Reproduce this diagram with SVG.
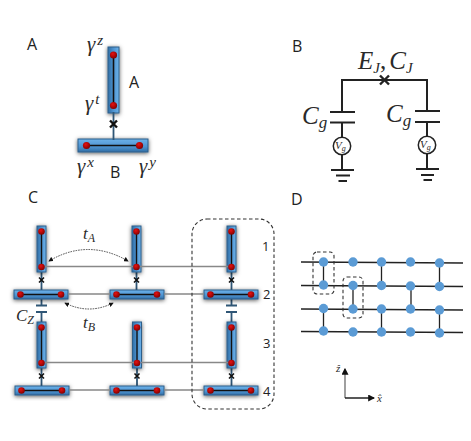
<svg xmlns="http://www.w3.org/2000/svg" width="471" height="441" viewBox="0 0 471 441">
<style>
.lab{font-family:"Open Sans","Lato",sans-serif;fill:#222}
.m{font-family:"Liberation Serif",serif;font-style:italic;fill:#2a2a2a}
.w{stroke:#222;fill:none;stroke-width:2}
.g{stroke:#888;stroke-width:1.3;fill:none}
.j{stroke:#2f5676;stroke-width:1.8;fill:none}
.x{stroke:#111;stroke-width:1.6;fill:none}
.blk{stroke:#111;stroke-width:1.4;fill:none}
.bar{fill:url(#bl);stroke:#2f5f8a;stroke-width:1;filter:url(#sh)}
.barh{fill:url(#bh);stroke:#2f5f8a;stroke-width:1;filter:url(#sh)}
.dot{fill:url(#rd)}
.dash{fill:none;stroke:#333;stroke-width:1.1;stroke-dasharray:3.5 2.5}
.d{fill:#5b9bd5}
.l{stroke:#222;stroke-width:1.3;fill:none}
.c{stroke:#222;stroke-width:.8;fill:none;stroke-dasharray:1.6 1}
</style>
<defs>
<linearGradient id="bl" x1="0" x2="1" y1="0" y2="0"><stop offset="0" stop-color="#2f6ea5"/><stop offset=".5" stop-color="#4e93d0"/><stop offset="1" stop-color="#6cb2ea"/></linearGradient>
<linearGradient id="bh" x1="0" x2="0" y1="0" y2="1"><stop offset="0" stop-color="#6cb2ea"/><stop offset=".6" stop-color="#4e93d0"/><stop offset="1" stop-color="#2f6ea5"/></linearGradient>
<radialGradient id="rd" cx=".4" cy=".35" r=".7"><stop offset="0" stop-color="#e81010"/><stop offset="1" stop-color="#7a0000"/></radialGradient>
<filter id="sh" x="-60%" y="-60%" width="220%" height="220%"><feDropShadow dx="0" dy="1" stdDeviation="2" flood-color="#000" flood-opacity=".65"/></filter>
<marker id="ah" viewBox="0 0 6 6" refX="5" refY="3" markerWidth="6" markerHeight="6" orient="auto-start-reverse"><path d="M0 0L6 3L0 6z" fill="#111"/></marker>
<marker id="ax" viewBox="0 0 6 6" refX="5" refY="3" markerWidth="5" markerHeight="5" orient="auto"><path d="M0 0L6 3L0 6z" fill="#111"/></marker>
<g id="vq">
<rect class="bar" x="-4.500" y="0" width="9" height="46"/>
<path class="blk" d="M0 5V41"/>
<circle class="dot" cy="5.500" r="3.300"/><circle class="dot" cy="41" r="3.300"/>
</g>
<g id="hq">
<rect class="barh" x="0" y="0" width="54" height="9"/>
<path class="blk" d="M6 4.500H47"/>
<circle class="dot" cx="6.500" cy="4.500" r="3.300"/><circle class="dot" cx="47" cy="4.500" r="3.300"/>
</g>
</defs>

<g id="panel-labels">
<text class="lab" x="27" y="50" font-size="16">A</text>
<text class="lab" x="292" y="52" font-size="16">B</text>
<text class="lab" x="28" y="203" font-size="16">C</text>
<text class="lab" x="291" y="205" font-size="16">D</text>
</g>

<g id="qubit-A">
<rect class="bar" x="108" y="47" width="11" height="66"/>
<path class="blk" style="stroke-width:1.6" d="M113.500 55V105"/>
<circle class="dot" cx="113.500" cy="55" r="3.600"/><circle class="dot" cx="113.500" cy="105.500" r="3.600"/>
<rect class="barh" x="78" y="139" width="70" height="13"/>
<path class="blk" style="stroke-width:1.6" d="M86 145.500H139"/>
<circle class="dot" cx="86.500" cy="145.500" r="3.600"/><circle class="dot" cx="139.500" cy="145.500" r="3.600"/>
<path class="j" d="M113.500 112V140"/>
<path d="M110 120.500L117 127.500M117 120.500L110 127.500" stroke="#111" stroke-width="2.400"/>
<text class="lab" x="129" y="88" font-size="16">A</text>
<text class="lab" x="110" y="178" font-size="16">B</text>
<text class="m" x="87" y="51" font-size="21">γ<tspan dx="2" dy="-6" font-size="15">z</tspan></text>
<text class="m" x="85" y="110" font-size="21">γ<tspan dx="2" dy="-6" font-size="15">t</tspan></text>
<text class="m" x="77" y="173" font-size="21">γ<tspan dx="2" dy="-6" font-size="15">x</tspan></text>
<text class="m" x="139" y="173" font-size="21">γ<tspan dx="2" dy="-6" font-size="15">y</tspan></text>
</g>

<g id="circuit-B">
<path class="w" d="M342 112V80H427V111M342 122V137M342 155V170M427 122V136M427 154V169"/>
<path class="w" d="M330 112H355M330 122.500H355M415 111H440M415 122H440M331 170H354M336 175.500H350M338.500 181H347M416 169H439M421 175H434M423.500 180H432"/>
<path d="M380 75.500L389 84.500M389 75.500L380 84.500" stroke="#222" stroke-width="2.400"/>
<text class="m" x="358" y="69" font-size="25">E<tspan dy="4" font-size="15">J</tspan><tspan dy="-4" font-style="normal">,</tspan><tspan dx="3">C</tspan><tspan dy="4" font-size="15">J</tspan></text>
<text class="m" x="302" y="124" font-size="25">C<tspan dy="4" font-size="17">g</tspan></text>
<text class="m" x="386" y="122" font-size="25">C<tspan dy="4" font-size="17">g</tspan></text>
<circle cx="342" cy="146" r="8.700" fill="#fff" stroke="#222" stroke-width="1.500"/>
<circle cx="427" cy="145" r="8.700" fill="#fff" stroke="#222" stroke-width="1.500"/>
<text class="m" x="335" y="149" font-size="11">V<tspan dy="2" font-size="8">g</tspan></text>
<text class="m" x="420" y="148" font-size="11">V<tspan dy="2" font-size="8">g</tspan></text>
</g>

<g id="array-C">
<path class="j" d="M41.500 272V290M136.500 272V290M231.500 272V290M41.500 368V386M137 368V386M231.500 368V386"/>
<path class="j" d="M41.500 299V305.500M41.500 312V322M231.500 299V305.500M231.500 312V322"/>
<path class="j" style="stroke-width:2" d="M36 305.500H47M36 312H47M226 305.500H237M226 312H237"/>
<use href="#vq" x="41.500" y="226"/>
<use href="#vq" x="136.500" y="226"/>
<use href="#vq" x="231.500" y="226"/>
<use href="#vq" x="41.500" y="322"/>
<use href="#vq" x="137" y="322"/>
<use href="#vq" x="231.500" y="322"/>
<use href="#hq" x="14" y="290"/>
<use href="#hq" x="110" y="290"/>
<use href="#hq" x="204" y="290"/>
<use href="#hq" x="15" y="386"/>
<use href="#hq" x="110" y="386"/>
<use href="#hq" x="204" y="386"/>
<path class="g" d="M45 266.500H133M140 266.500H228M68 294H110M164 294H204M45 362.500H134M141 362.500H228M69 390H110M164 390H204"/>
<path class="c" marker-start="url(#ah)" marker-end="url(#ah)" d="M49 261Q88 238 128 261"/>
<path class="c" marker-start="url(#ah)" marker-end="url(#ah)" d="M65 303Q89 315 113 303"/>
<path class="x" d="M39 277.500L44 282.500M44 277.500L39 282.500M134 277.500L139 282.500M139 277.500L134 282.500M229 277.500L234 282.500M234 277.500L229 282.500M39 373.500L44 378.500M44 373.500L39 378.500M134.500 373.500L139.500 378.500M139.500 373.500L134.500 378.500M229 373.500L234 378.500M234 373.500L229 378.500"/>
<rect class="dash" x="192" y="219" width="82" height="190" rx="15"/>
<text class="m" x="83" y="239" font-size="17">t<tspan dy="3" font-size="12">A</tspan></text>
<text class="m" x="83" y="328" font-size="17">t<tspan dy="3" font-size="12">B</tspan></text>
<text class="m" x="16" y="321" font-size="17">C<tspan dy="3" font-size="12">Z</tspan></text>
<text class="lab" x="262" y="251" font-size="13">1</text>
<text class="lab" x="263" y="299" font-size="13">2</text>
<text class="lab" x="263" y="348" font-size="13">3</text>
<text class="lab" x="263" y="396" font-size="13">4</text>
</g>

<g id="lattice-D">
<path class="l" d="M301 262L463 263M301 285.500L463 286.500M301 309L463 310M301 331.500L463 332.500"/>
<path class="l" d="M323.500 262V285M353 285V308.500M381.500 262V285.500M411 286V309M439.500 263V286M323.500 308.500V331M381.500 309V332M439.500 310V333"/>
<rect class="dash" x="313" y="252" width="21" height="42" rx="4"/>
<rect class="dash" x="343" y="277" width="20" height="41" rx="4"/>
<g class="d">
<circle cx="323.500" cy="262" r="4.700"/><circle cx="353" cy="262" r="4.700"/><circle cx="381.500" cy="262" r="4.700"/><circle cx="410.500" cy="262" r="4.700"/><circle cx="439.500" cy="263" r="4.700"/>
<circle cx="323.500" cy="285" r="4.700"/><circle cx="353" cy="285.500" r="4.700"/><circle cx="381.500" cy="285.500" r="4.700"/><circle cx="410.500" cy="286" r="4.700"/><circle cx="439.500" cy="286.500" r="4.700"/>
<circle cx="323.500" cy="308.500" r="4.700"/><circle cx="353" cy="309" r="4.700"/><circle cx="381.500" cy="309" r="4.700"/><circle cx="410.500" cy="309" r="4.700"/><circle cx="439.500" cy="310" r="4.700"/>
<circle cx="323.500" cy="331" r="4.700"/><circle cx="353" cy="332" r="4.700"/><circle cx="381.500" cy="332" r="4.700"/><circle cx="410.500" cy="332" r="4.700"/><circle cx="439.500" cy="333" r="4.700"/>
</g>
</g>

<g id="axes">
<path class="blk" style="stroke:#777" marker-end="url(#ax)" d="M345 398V369"/>
<path class="blk" marker-end="url(#ax)" d="M345 398H374"/>
<text class="m" x="336" y="372" font-size="11">ẑ</text>
<text class="m" x="377" y="402" font-size="11">x̂</text>
</g>
</svg>
